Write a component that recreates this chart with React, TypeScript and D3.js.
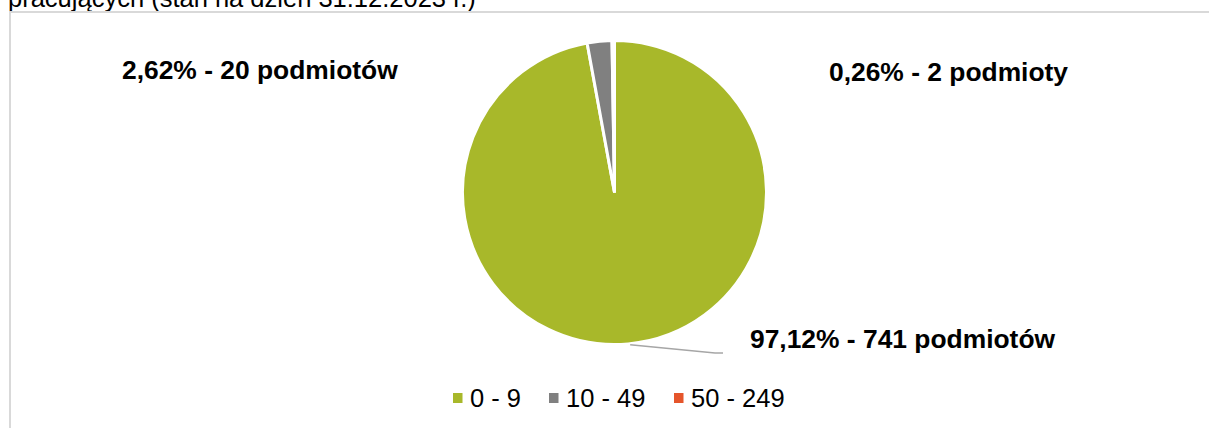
import React from "react";
import * as d3 from "d3";

const categories = ["0 - 9", "10 - 49", "50 - 249"];
const counts = [741, 20, 2];
const percentLabels = ["97,12%", "2,62%", "0,26%"];
const unitLabels = ["podmiotów", "podmiotów", "podmioty"];
const colors = ["#a8b82a", "#808080", "#e5552b"];
const titleTail = "pracujących (stan na dzień 31.12.2023 r.)";

const W = 1209;
const H = 428;
const cx = 614.5;
const cy = 192.5;
const R = 152;
const FONT = "Arial, 'Liberation Sans', sans-serif";

// label anchor positions (layout)
const labelPos = [
  { x: 750, y: 348 },
  { x: 122, y: 79 },
  { x: 829, y: 81 },
];
const legendX = [453, 549, 674];

export default function App() {
  const pie = d3
    .pie<number>()
    .sort(null)
    .value((d) => d)
    .startAngle(0)
    .endAngle(2 * Math.PI);
  const arcs = pie(counts);
  const arc = d3.arc<d3.PieArcDatum<number>>().innerRadius(0).outerRadius(R);

  // leader line for the big slice (starts on its rim near the bottom)
  const ang = Math.PI - 0.1;
  const p0: [number, number] = [cx + R * Math.sin(ang), cy - R * Math.cos(ang)];
  const leader = d3.line()([
    [p0[0] + 0.5, p0[1] + 1],
    [715, 353],
    [723, 353],
  ]);

  return (
    <svg
      width={W}
      height={H}
      style={{ position: "absolute", left: 0, top: 0, background: "#fff" }}
      fontFamily={FONT}
    >
      <text x={8} y={6.5} fontSize={25.5} fill="#000">
        {titleTail}
      </text>
      <rect x={10} y={12} width={W + 20} height={H + 20} fill="none" stroke="#d9d9d9" strokeWidth={2} />
      <g transform={`translate(${cx},${cy})`}>
        {arcs.map((d, i) => (
          <path key={i} d={arc(d) || ""} fill={colors[i]} stroke="#fff" strokeWidth={3} />
        ))}
      </g>
      <path d={leader || ""} fill="none" stroke="#a6a6a6" strokeWidth={1.5} />
      {arcs.map((d, i) => (
        <text
          key={i}
          x={labelPos[i].x}
          y={labelPos[i].y}
          fontSize={26.4}
          fontWeight="bold"
          fill="#000"
        >
          {`${percentLabels[i]} - ${counts[i]} ${unitLabels[i]}`}
        </text>
      ))}
      {categories.map((c, i) => (
        <g key={c}>
          <rect x={legendX[i]} y={393} width={9.5} height={10} fill={colors[i]} />
          <text x={legendX[i] + 17} y={407} fontSize={25.5} fill="#000">
            {c}
          </text>
        </g>
      ))}
    </svg>
  );
}
